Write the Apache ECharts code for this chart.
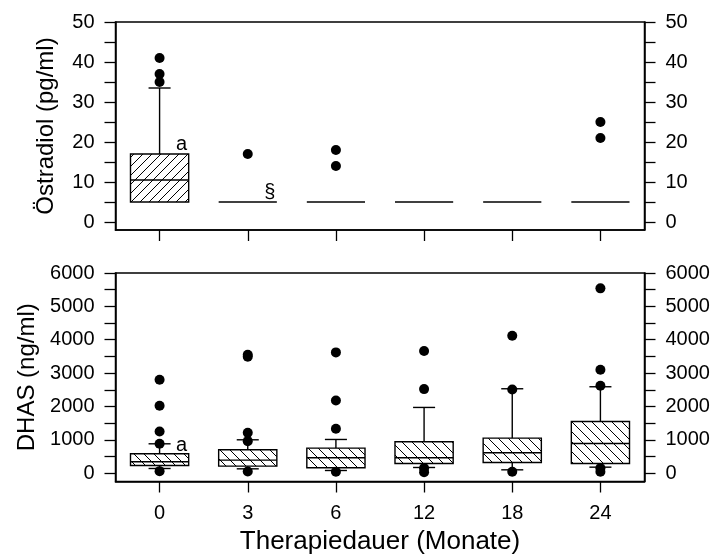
<!DOCTYPE html>
<html><head><meta charset="utf-8">
<script src="https://cdn.jsdelivr.net/npm/echarts@6/dist/echarts.min.js"></script>
<style>html,body{margin:0;padding:0;background:#fff}#c{width:721px;height:557px}</style>
</head><body><div id="c"></div>
<script>
// ---------------- data ----------------
const categories = ['0', '3', '6', '12', '18', '24'];

// Östradiol (pg/ml)
const e2Min    = [5, 5, 5, 5, 5, 5];
const e2Q1     = [5, 5, 5, 5, 5, 5];
const e2Median = [10.5, 5, 5, 5, 5, 5];
const e2Q3     = [17, 5, 5, 5, 5, 5];
const e2Max    = [33.5, 5, 5, 5, 5, 5];
const e2Outliers = [[0, 41], [0, 37], [0, 35], [1, 17], [2, 18], [2, 14], [5, 25], [5, 21]];
const e2TickValues  = [0, 5, 10, 15, 20, 25, 30, 35, 40, 45, 50];
const e2LabelValues = [0, 10, 20, 30, 40, 50];
const e2Notes = [[0, 19.5, 'a'], [1, 7.3, '§']];

// DHAS (ng/ml)
const dhasMin    = [140, 130, 80, 170, 100, 180];
const dhasQ1     = [230, 210, 160, 290, 320, 290];
const dhasMedian = [340, 390, 460, 460, 610, 890];
const dhasQ3     = [580, 700, 750, 940, 1050, 1550];
const dhasMax    = [880, 1000, 1010, 1970, 2530, 2590];
const dhasOutliers = [
  [0, 2800], [0, 2020], [0, 1250], [0, 880], [0, 60],
  [1, 3550], [1, 3490], [1, 1210], [1, 960], [1, 50],
  [2, 3620], [2, 2180], [2, 1330], [2, 40],
  [3, 3660], [3, 2520], [3, 150], [3, 30],
  [4, 4120], [4, 2510], [4, 40],
  [5, 5540], [5, 3100], [5, 2620], [5, 150], [5, 40]
];
const dhasTickValues  = [0, 500, 1000, 1500, 2000, 2500, 3000, 3500, 4000, 4500, 5000, 5500, 6000];
const dhasLabelValues = [0, 1000, 2000, 3000, 4000, 5000, 6000];
const dhasNotes = [[0, 820, 'a']];

// ---------------- rendering ----------------
const FONT = '"Liberation Sans", Arial, Helvetica, sans-serif';

function makeHatch(dir, p) {
  const c = document.createElement('canvas');
  c.width = p; c.height = p;
  const g = c.getContext('2d');
  g.fillStyle = '#fff'; g.fillRect(0, 0, p, p);
  g.strokeStyle = '#000'; g.lineWidth = 1;
  g.beginPath();
  if (dir === '/') {
    g.moveTo(-1, p + 1); g.lineTo(p + 1, -1);
    g.moveTo(-1, 1); g.lineTo(1, -1);
    g.moveTo(p - 1, p + 1); g.lineTo(p + 1, p - 1);
  } else {
    g.moveTo(-1, -1); g.lineTo(p + 1, p + 1);
    g.moveTo(p - 1, -1); g.lineTo(p + 1, 1);
    g.moveTo(-1, p - 1); g.lineTo(1, p + 1);
  }
  g.stroke();
  return c;
}
const hatchTop = makeHatch('/', 9);
const hatchBottom = makeHatch('\\', 10);

function boxData(mn, q1, md, q3, mx) {
  return categories.map((c, i) => [i, mn[i], q1[i], md[i], q3[i], mx[i]]);
}

function boxRenderer(pattern) {
  return function (params, api) {
    const i = api.value(0);
    const mn = api.value(1), q1 = api.value(2), md = api.value(3), q3 = api.value(4), mx = api.value(5);
    const band = api.size([1, 0])[0];
    const bw = band * 0.66, cw = band * 0.25;
    const x = api.coord([i, md])[0];
    const y = v => api.coord([i, v])[1];
    const ls = { stroke: '#000', lineWidth: 1.4, fill: null };
    const ch = [];
    if (mx > q3) {
      ch.push({ type: 'line', shape: { x1: x, y1: y(q3), x2: x, y2: y(mx) }, style: ls });
      ch.push({ type: 'line', shape: { x1: x - cw / 2, y1: y(mx), x2: x + cw / 2, y2: y(mx) }, style: ls });
    }
    if (mn < q1) {
      ch.push({ type: 'line', shape: { x1: x, y1: y(q1), x2: x, y2: y(mn) }, style: ls });
      ch.push({ type: 'line', shape: { x1: x - cw / 2, y1: y(mn), x2: x + cw / 2, y2: y(mn) }, style: ls });
    }
    if (q3 > q1) {
      ch.push({ type: 'rect', shape: { x: x - bw / 2, y: y(q3), width: bw, height: y(q1) - y(q3) },
        style: { fill: { image: pattern, repeat: 'repeat' }, stroke: '#000', lineWidth: 1.4 } });
    }
    ch.push({ type: 'line', shape: { x1: x - bw / 2, y1: y(md), x2: x + bw / 2, y2: y(md) }, style: ls });
    return { type: 'group', children: ch };
  };
}

function noteRenderer(params, api) {
  const c = api.coord([api.value(0), api.value(1)]);
  return { type: 'text', x: c[0] + 22, y: c[1],
    style: { text: api.value(2), font: '20px ' + FONT, fill: '#000', align: 'center', verticalAlign: 'middle' } };
}

const axisLine = { show: true, onZero: false, lineStyle: { color: '#000', width: 1.5 } };
const tickStyle = { color: '#000', width: 1.3 };
const labelStyle = { color: '#000', fontSize: 20, fontFamily: FONT };

function xAxis(gi, withLabels) {
  return {
    type: 'category', gridIndex: gi, data: categories, boundaryGap: true,
    axisLine: axisLine,
    axisTick: { show: true, alignWithLabel: true, length: 11, lineStyle: tickStyle },
    axisLabel: Object.assign({ show: withLabels, margin: 22 }, labelStyle),
    splitLine: { show: false },
    name: withLabels ? 'Therapiedauer (Monate)' : '',
    nameLocation: 'middle', nameGap: 47,
    nameTextStyle: { color: '#000', fontSize: 26, fontFamily: FONT }
  };
}

function yAxis(gi, pos, min, max, ticks, labels, name) {
  return {
    type: 'value', gridIndex: gi, position: pos, min: min, max: max,
    axisLine: axisLine,
    axisTick: { show: true, length: 11, lineStyle: tickStyle, customValues: ticks },
    axisLabel: Object.assign({ margin: 21, customValues: labels, formatter: v => String(v) }, labelStyle),
    splitLine: { show: false },
    name: name || '', nameLocation: 'middle', nameGap: 57,
    nameTextStyle: { color: '#000', fontSize: 24, fontFamily: FONT }
  };
}

const chart = echarts.init(document.getElementById('c'), null, { renderer: 'canvas' });
chart.setOption({
  backgroundColor: '#fff',
  animation: false,
  grid: [
    { left: 115.5, right: 76.5, top: 22, height: 208, show: true, borderColor: '#000', borderWidth: 1.5, backgroundColor: 'transparent' },
    { left: 115.5, right: 76.5, top: 273, height: 208.5, show: true, borderColor: '#000', borderWidth: 1.5, backgroundColor: 'transparent' }
  ],
  xAxis: [xAxis(0, false), xAxis(1, true)],
  yAxis: [
    yAxis(0, 'left', -2, 50, e2TickValues, e2LabelValues, 'Östradiol (pg/ml)'),
    yAxis(0, 'right', -2, 50, e2TickValues, e2LabelValues),
    yAxis(1, 'left', -250, 6000, dhasTickValues, dhasLabelValues, 'DHAS (ng/ml)'),
    yAxis(1, 'right', -250, 6000, dhasTickValues, dhasLabelValues)
  ],
  series: [
    { type: 'custom', xAxisIndex: 0, yAxisIndex: 0, renderItem: boxRenderer(hatchTop),
      data: boxData(e2Min, e2Q1, e2Median, e2Q3, e2Max), z: 2 },
    { type: 'scatter', xAxisIndex: 0, yAxisIndex: 0, data: e2Outliers, symbol: 'circle', symbolSize: 10,
      itemStyle: { color: '#000', opacity: 1 }, z: 3 },
    { type: 'custom', xAxisIndex: 0, yAxisIndex: 0, renderItem: noteRenderer, data: e2Notes, z: 4 },
    { type: 'custom', xAxisIndex: 1, yAxisIndex: 2, renderItem: boxRenderer(hatchBottom),
      data: boxData(dhasMin, dhasQ1, dhasMedian, dhasQ3, dhasMax), z: 2 },
    { type: 'scatter', xAxisIndex: 1, yAxisIndex: 2, data: dhasOutliers, symbol: 'circle', symbolSize: 10,
      itemStyle: { color: '#000', opacity: 1 }, z: 3 },
    { type: 'custom', xAxisIndex: 1, yAxisIndex: 2, renderItem: noteRenderer, data: dhasNotes, z: 4 }
  ]
});
</script>
</body></html>
